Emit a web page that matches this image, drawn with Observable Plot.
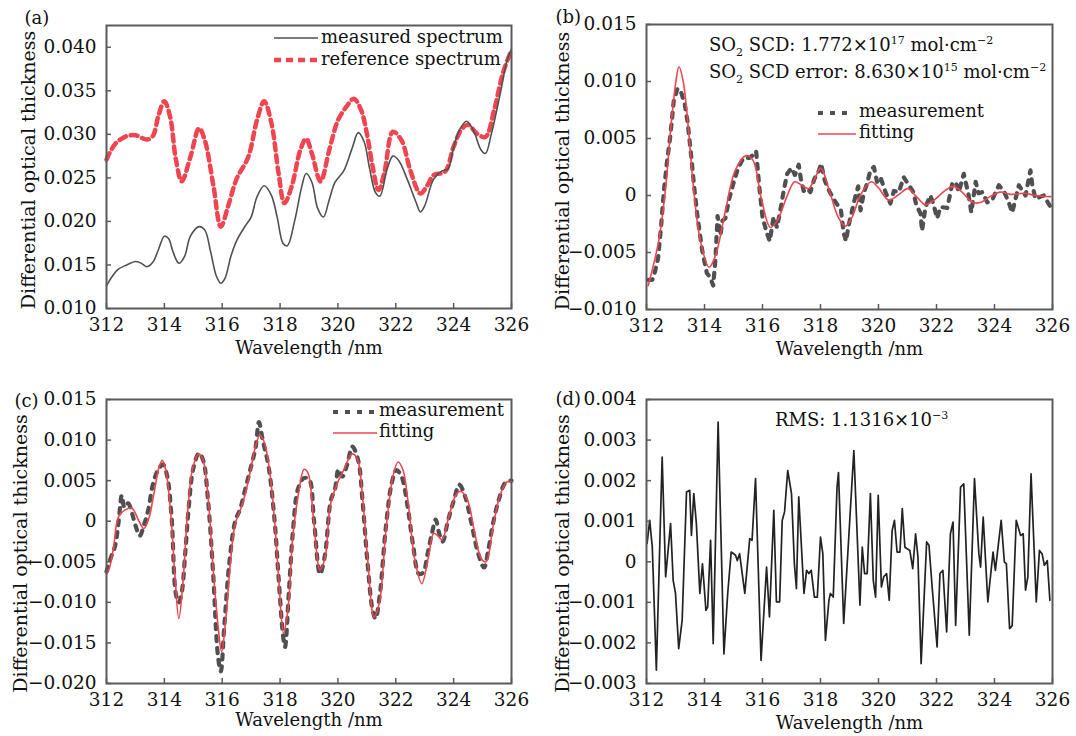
<!DOCTYPE html>
<html>
<head>
<meta charset="utf-8">
<script src="https://cdn.jsdelivr.net/npm/d3@7"></script>
<script src="https://cdn.jsdelivr.net/npm/@observablehq/plot@0.6"></script>
<style>
  body { margin: 0; background: #fff; }
  #wrap { position: relative; width: 1076px; height: 736px; font-family: "DejaVu Serif", serif; color: #111; }
  .panel { position: absolute; }
  .note { position: absolute; font-size: 18px; line-height: 20px; white-space: nowrap; }
  .note sub, .note sup { font-size: 11px; line-height: 0; }
  .sample { position: absolute; }
</style>
</head>
<body>
<div id="wrap"></div>
<script>
// ---------- data ----------
const wavelengthTicks = [312, 314, 316, 318, 320, 322, 324, 326];
const xTitle = "Wavelength /nm";
const yTitle = "Differential optical thickness";

// (a)
const aYTicks = [0.010, 0.015, 0.020, 0.025, 0.030, 0.035, 0.040];
const aMeasured = [
  [312.0,0.0126],[312.2,0.0137],[312.4,0.0145],[312.7,0.0150],[313.0,0.0154],[313.2,0.0152],[313.4,0.0148],
  [313.6,0.0153],[313.8,0.0168],[314.0,0.0183],[314.15,0.0180],[314.3,0.0165],[314.5,0.0152],[314.7,0.0160],
  [314.9,0.0183],[315.2,0.0194],[315.4,0.0190],[315.6,0.0165],[315.8,0.0137],[315.95,0.0129],[316.1,0.0135],
  [316.3,0.0160],[316.5,0.0178],[316.8,0.0195],[317.0,0.0205],[317.2,0.0228],[317.45,0.0241],[317.7,0.0230],
  [317.9,0.0205],[318.1,0.0175],[318.25,0.0172],[318.5,0.0200],[318.75,0.0240],[318.9,0.0255],[319.1,0.0245],
  [319.3,0.0215],[319.5,0.0205],[319.7,0.0225],[319.9,0.0245],[320.2,0.0258],[320.5,0.0285],[320.7,0.0302],
  [320.9,0.0292],[321.1,0.0260],[321.3,0.0233],[321.45,0.0229],[321.7,0.0260],[321.9,0.0275],[322.1,0.0270],
  [322.4,0.0248],[322.7,0.0222],[322.85,0.0211],[323.0,0.0218],[323.3,0.0248],[323.6,0.0258],[323.8,0.0260],
  [324.0,0.0285],[324.2,0.0305],[324.45,0.0315],[324.7,0.0303],[324.95,0.0282],[325.1,0.0278],[325.3,0.0300],
  [325.6,0.0345],[325.85,0.0385],[326.0,0.0398]
];
const aReference = [
  [312.0,0.0271],[312.3,0.0289],[312.7,0.0298],[313.0,0.0299],[313.4,0.0294],[313.6,0.0298],[313.8,0.0322],
  [314.0,0.0338],[314.2,0.0320],[314.4,0.0271],[314.6,0.0246],[314.9,0.0274],[315.2,0.0307],[315.4,0.0293],
  [315.7,0.0240],[315.95,0.0194],[316.2,0.0217],[316.5,0.0249],[316.9,0.0274],[317.2,0.0316],[317.45,0.0338],
  [317.7,0.0313],[317.95,0.0255],[318.15,0.0221],[318.4,0.0240],[318.7,0.0282],[318.9,0.0295],[319.1,0.0278],
  [319.4,0.0246],[319.7,0.0282],[320.0,0.0316],[320.3,0.0332],[320.55,0.0341],[320.8,0.0328],[321.0,0.0301],
  [321.2,0.0263],[321.4,0.0236],[321.6,0.0255],[321.9,0.0303],[322.2,0.0293],[322.5,0.0259],[322.85,0.0232],
  [323.1,0.0242],[323.3,0.0253],[323.7,0.0257],[324.0,0.0286],[324.3,0.0307],[324.5,0.0311],[324.8,0.0301],
  [325.1,0.0297],[325.4,0.0328],[325.7,0.0370],[326.0,0.0397]
];

// (b)
const bYTicks = [-0.010, -0.005, 0, 0.005, 0.010, 0.015];
const bMeasurement = [
  [312.05,-0.0074],[312.2,-0.0074],[312.3,-0.0066],[312.4,-0.0055],[312.5,-0.0028],[312.6,0.0004],[312.7,0.0028],
  [312.82,0.0052],[312.94,0.0083],[313.07,0.0094],[313.2,0.0090],[313.32,0.0080],[313.42,0.0064],[313.52,0.0040],
  [313.63,0.0011],[313.76,-0.0019],[313.92,-0.0048],[314.08,-0.0068],[314.2,-0.0072],[314.3,-0.0079],[314.38,-0.0055],
  [314.45,-0.0018],[314.55,-0.0035],[314.62,-0.0022],[314.72,-0.0020],[314.84,-0.0004],[315.0,0.0011],[315.17,0.0025],
  [315.35,0.0033],[315.55,0.0033],[315.7,0.0036],[315.78,0.0039],[315.88,0.0010],[316.0,-0.0019],[316.15,-0.0033],
  [316.25,-0.0040],[316.38,-0.0019],[316.5,-0.0028],[316.62,-0.0012],[316.73,0.0004],[316.85,0.0019],[317.0,0.0024],
  [317.12,0.0018],[317.25,0.0027],[317.32,0.0015],[317.42,0.0004],[317.55,0.0006],[317.65,0.0003],[317.78,0.0014],
  [317.95,0.0022],[318.02,0.0028],[318.15,0.0013],[318.3,0.0004],[318.45,-0.0003],[318.58,-0.0008],[318.7,-0.0012],
  [318.8,-0.0033],[318.88,-0.0040],[318.98,-0.0025],[319.09,-0.0013],[319.2,-0.0001],[319.3,0.0008],[319.38,-0.0013],
  [319.5,0.0003],[319.6,0.0010],[319.72,0.0022],[319.84,0.0025],[319.95,0.0012],[320.07,0.0016],[320.24,0.0003],
  [320.41,-0.0007],[320.53,0.0004],[320.7,0.0003],[320.87,0.0016],[321.05,0.0009],[321.2,0.0003],[321.3,-0.0008],
  [321.45,-0.0016],[321.5,-0.0031],[321.62,-0.0010],[321.79,0.0000],[321.9,-0.0008],[322.02,-0.0020],[322.14,-0.0010],
  [322.37,-0.0011],[322.54,0.0010],[322.66,0.0012],[322.77,0.0003],[322.94,0.0019],[323.11,0.0000],[323.2,-0.0015],
  [323.35,0.0012],[323.45,0.0002],[323.58,0.0003],[323.75,-0.0006],[323.92,-0.0004],[324.15,0.0009],[324.32,0.0004],
  [324.49,-0.0006],[324.61,-0.0015],[324.84,0.0009],[325.07,0.0000],[325.24,0.0022],[325.3,0.0010],[325.41,-0.0003],
  [325.59,-0.0001],[325.7,0.0000],[325.93,-0.0010]
];
const bFitting = [
  [312.06,-0.0079],[312.42,-0.0040],[312.66,0.0007],[312.84,0.0060],[313.02,0.0101],[313.12,0.0113],[313.26,0.0101],
  [313.44,0.0060],[313.62,0.0007],[313.86,-0.0040],[314.16,-0.0063],[314.40,-0.0051],[314.70,-0.0016],[315.06,0.0022],
  [315.43,0.0035],[315.67,0.0031],[315.97,-0.0004],[316.27,-0.0028],[316.51,-0.0022],[316.87,0.0001],[317.11,0.0012],
  [317.35,0.0009],[317.59,0.0006],[317.77,0.0013],[318.01,0.0024],[318.31,0.0004],[318.61,-0.0019],[318.85,-0.0027],
  [319.09,-0.0019],[319.39,0.0001],[319.75,0.0012],[319.99,0.0007],[320.35,-0.0004],[320.71,0.0001],[321.01,0.0006],
  [321.31,-0.0001],[321.61,-0.0008],[321.92,-0.0004],[322.28,0.0004],[322.58,0.0008],[322.88,0.0003],[323.24,-0.0006],
  [323.54,-0.0006],[323.84,-0.0001],[324.20,0.0003],[324.56,0.0001],[325.04,0.0002],[325.40,0.0000],[325.94,-0.0001]
];

// (c)
const cYTicks = [-0.020, -0.015, -0.010, -0.005, 0, 0.005, 0.010, 0.015];
const cMeasurement = [
  [312.0,-0.0062],[312.15,-0.0045],[312.3,-0.0030],[312.42,0.0000],[312.53,0.0032],[312.62,0.0017],[312.75,0.0022],
  [312.88,0.0010],[313.0,-0.0005],[313.15,-0.0018],[313.3,-0.0004],[313.45,0.0015],[313.6,0.0045],[313.78,0.0063],
  [313.95,0.0070],[314.1,0.0055],[314.25,0.0005],[314.4,-0.0090],[314.5,-0.0100],[314.6,-0.0088],[314.72,-0.0040],
  [314.85,0.0020],[315.0,0.0065],[315.2,0.0084],[315.35,0.0074],[315.5,0.0030],[315.68,-0.0060],[315.85,-0.0165],
  [315.95,-0.0185],[316.07,-0.0130],[316.25,-0.0050],[316.45,0.0000],[316.62,0.0015],[316.8,0.0040],[317.0,0.0068],
  [317.15,0.0090],[317.27,0.0122],[317.4,0.0100],[317.6,0.0068],[317.8,0.0005],[317.95,-0.0070],[318.1,-0.0140],
  [318.17,-0.0155],[318.3,-0.0090],[318.45,-0.0010],[318.62,0.0040],[318.82,0.0053],[319.0,0.0052],[319.17,0.0002],
  [319.38,-0.0065],[319.55,-0.0042],[319.75,0.0025],[319.9,0.0040],[320.02,0.0064],[320.15,0.0055],[320.32,0.0070],
  [320.5,0.0092],[320.7,0.0075],[320.85,0.0025],[321.02,-0.0050],[321.2,-0.0110],[321.3,-0.0120],[321.45,-0.0090],
  [321.65,-0.0010],[321.85,0.0045],[322.02,0.0063],[322.2,0.0055],[322.4,0.0020],[322.6,-0.0030],[322.8,-0.0065],
  [322.95,-0.0063],[323.1,-0.0040],[323.25,-0.0015],[323.38,0.0002],[323.5,-0.0015],[323.62,-0.0025],[323.8,0.0000],
  [324.0,0.0025],[324.2,0.0045],[324.4,0.0030],[324.6,0.0000],[324.85,-0.0040],[325.05,-0.0057],[325.2,-0.0035],
  [325.35,-0.0005],[325.55,0.0025],[325.8,0.0048],[326.0,0.0050]
];
const cFitting = [
  [312.0,-0.0064],[312.06,-0.0062],[312.23,-0.0036],[312.41,0.0005],[312.64,0.0014],[312.88,0.0016],[313.11,0.0001],
  [313.29,-0.0009],[313.46,0.0003],[313.64,0.0034],[313.82,0.0067],[313.93,0.0075],[314.05,0.0063],[314.23,0.0005],
  [314.37,-0.0069],[314.5,-0.0120],[314.64,-0.0077],[314.81,0.0014],[314.99,0.0067],[315.19,0.0083],[315.34,0.0075],
  [315.51,0.0030],[315.69,-0.0060],[315.87,-0.0134],[315.98,-0.0161],[316.12,-0.0122],[316.28,-0.0052],[316.45,-0.0003],
  [316.63,0.0014],[316.8,0.0034],[316.98,0.0063],[317.15,0.0092],[317.3,0.0106],[317.45,0.0098],[317.62,0.0067],
  [317.8,0.0005],[317.95,-0.0069],[318.12,-0.0138],[318.27,-0.0110],[318.44,-0.0019],[318.62,0.0030],[318.83,0.0064],
  [318.97,0.0059],[319.15,0.0005],[319.38,-0.0060],[319.56,-0.0044],[319.73,0.0018],[319.97,0.0046],[320.2,0.0063],
  [320.49,0.0083],[320.67,0.0077],[320.85,0.0030],[321.02,-0.0044],[321.25,-0.0118],[321.43,-0.0101],[321.66,-0.0011],
  [321.9,0.0055],[322.08,0.0073],[322.25,0.0063],[322.43,0.0022],[322.66,-0.0048],[322.9,-0.0077],[323.13,-0.0044],
  [323.31,-0.0015],[323.48,-0.0019],[323.6,-0.0023],[323.83,0.0005],[324.07,0.0032],[324.24,0.0037],[324.48,0.0026],
  [324.71,-0.0011],[324.95,-0.0046],[325.12,-0.0050],[325.36,-0.0007],[325.59,0.0030],[325.82,0.0048],[326.0,0.0049]
];

// (d)
const dYTicks = [-0.003, -0.002, -0.001, 0, 0.001, 0.002, 0.003, 0.004];
const dResidual = [
  [312.02,0.00045],[312.11,0.00102],[312.2,0.00036],[312.34,-0.00267],[312.54,0.00258],[312.66,-0.00037],
  [312.83,0.00094],[312.92,-0.00046],[313.0,-0.00078],[313.11,-0.00214],[313.23,-0.00144],[313.38,0.00172],
  [313.49,0.00176],[313.55,0.00065],[313.63,0.00168],[313.72,0.00094],[313.84,-0.00078],[313.93,-0.00005],
  [314.05,-0.0012],[314.11,-0.00111],[314.21,0.00053],[314.3,-0.00202],[314.47,0.00344],[314.67,-0.00227],
  [314.8,-0.00078],[314.92,0.00024],[315.07,0.00016],[315.13,0.00003],[315.21,0.0002],[315.39,-0.00078],
  [315.56,0.00057],[315.64,0.00053],[315.76,0.00205],[315.95,-0.00243],[316.14,-0.00013],[316.24,-0.00136],
  [316.39,0.00127],[316.48,-0.00099],[316.59,-0.00099],[316.68,0.00102],[316.76,0.00123],[316.87,0.00225],
  [317.0,0.00168],[317.1,-0.00005],[317.17,-0.00066],[317.25,0.0016],[317.43,-0.00078],[317.52,-0.00021],
  [317.6,-0.00029],[317.68,-0.00021],[317.79,-0.00087],[317.89,-0.00087],[318.0,0.00061],[318.08,0.0002],
  [318.17,-0.00194],[318.29,-0.00095],[318.34,-0.00078],[318.44,-0.00087],[318.57,0.00184],[318.62,0.0022],
  [318.8,-0.00152],[319.15,0.00274],[319.36,-0.00107],[319.44,0.00036],[319.52,-0.00029],[319.61,-0.00029],
  [319.72,0.00168],[319.82,-0.00046],[319.9,-0.00087],[319.99,0.00164],[320.1,-0.00062],[320.18,-0.00037],
  [320.28,-0.00029],[320.37,-0.00095],[320.47,0.00077],[320.55,0.00102],[320.64,0.00024],[320.74,0.00024],
  [320.82,0.00131],[320.91,0.00036],[320.99,0.00032],[321.08,0.00028],[321.18,-0.00017],[321.28,0.00069],
  [321.36,0.00012],[321.47,-0.00251],[321.66,0.00049],[321.74,0.00041],[321.85,-0.00062],[322.02,-0.0021],
  [322.12,-0.00029],[322.22,-0.00021],[322.35,-0.00173],[322.48,0.00069],[322.57,0.00098],[322.66,-0.00157],
  [322.83,0.00184],[322.94,0.00192],[323.13,-0.00181],[323.31,0.00205],[323.46,0.0002],[323.52,-0.00013],
  [323.61,0.0011],[323.77,-0.00099],[323.95,0.00024],[324.03,-0.00021],[324.23,0.00102],[324.34,0.0],
  [324.41,-0.00005],[324.52,-0.00165],[324.61,-0.00157],[324.75,0.00102],[324.9,0.00065],[324.99,0.00069],
  [325.07,-0.0007],[325.15,-0.00037],[325.26,0.00217],[325.44,-0.00099],[325.55,0.00028],[325.64,0.0002],
  [325.72,-0.00009],[325.82,0.00003],[325.91,-0.00095]
];

// ---------- drawing ----------
const wrap = document.getElementById("wrap");
const GRAY = "#505050", RED = "#ee4550", FRAME = "#5a5a5a";
const MEAS_DASH = "5,7";
const fmt = d => d === 0 ? "0" : d3.format(".3f")(d);

function panel(o) {
  const innerW = o.width - o.ml - o.mr, innerH = o.height - o.mt - o.mb;
  const chart = Plot.plot({
    width: o.width, height: o.height,
    marginTop: o.mt, marginRight: o.mr, marginBottom: o.mb, marginLeft: o.ml,
    x: {domain: [312, 326], label: null},
    y: {domain: o.yDomain, label: null},
    style: {fontFamily: "'DejaVu Serif', serif", fontSize: "18px", color: "#111", background: "transparent", overflow: "visible"},
    marks: [
      ...o.marks,
      Plot.frame({stroke: FRAME, strokeWidth: 2}),
      Plot.tickX(wavelengthTicks, {x: d => d, insetTop: innerH - 5, stroke: FRAME, strokeWidth: 1.5}),
      Plot.tickY(o.yTicks, {y: d => d, insetRight: innerW - 5, stroke: FRAME, strokeWidth: 1.5}),
      Plot.axisX({ticks: wavelengthTicks, tickSize: 0, tickPadding: 9, fontSize: 18.5, label: null, tickFormat: d => String(d)}),
      Plot.axisY({ticks: o.yTicks, tickSize: 0, tickPadding: 10, fontSize: 18.5, label: null, tickFormat: fmt}),
      Plot.text([xTitle], {text: d => d, frameAnchor: "bottom", dy: o.xlabDy, lineAnchor: "middle", textAnchor: "middle", fontSize: 18, fill: "#111"}),
      Plot.text([yTitle], {text: d => d, frameAnchor: "left", dx: o.ylabDx, dy: o.ylabDy || 0, rotate: -90, textAnchor: "middle", lineAnchor: "middle", fontSize: 19, fill: "#111"}),
      Plot.text([o.tag], {text: d => d, frameAnchor: "top-left", dx: o.tagDx, dy: o.tagDy, textAnchor: "start", lineAnchor: "middle", fontSize: 18, fill: "#111"})
    ]
  });
  chart.classList.add("panel");
  chart.style.left = o.left + "px";
  chart.style.top = o.top + "px";
  wrap.appendChild(chart);
}

const line = (data, opts) => Plot.line(data, {x: d => d[0], y: d => d[1], ...opts});

panel({
  left: 0, top: 0, width: 530, height: 365, ml: 106, mr: 19, mt: 25, mb: 57,
  yDomain: [0.010, 0.0425], yTicks: aYTicks, xlabDy: 40, ylabDx: -78, ylabDy: 3, tag: "(a)", tagDx: -82, tagDy: -7,
  marks: [
    line(aReference, {stroke: RED, strokeWidth: 4.5, strokeDasharray: "7,5", curve: "catmull-rom"}),
    line(aMeasured, {stroke: GRAY, strokeWidth: 1.6, curve: "catmull-rom"})
  ]
});
panel({
  left: 540, top: 0, width: 536, height: 365, ml: 106, mr: 24, mt: 24, mb: 56,
  yDomain: [-0.010, 0.015], yTicks: bYTicks, xlabDy: 40, ylabDx: -84, ylabDy: 4, tag: "(b)", tagDx: -91, tagDy: -7,
  marks: [
    line(bMeasurement, {stroke: GRAY, strokeWidth: 4.2, strokeDasharray: MEAS_DASH}),
    line(bFitting, {stroke: RED, strokeWidth: 1.6, curve: "catmull-rom"})
  ]
});
panel({
  left: 0, top: 375, width: 530, height: 361, ml: 106, mr: 19, mt: 24, mb: 53,
  yDomain: [-0.020, 0.015], yTicks: cYTicks, xlabDy: 37, ylabDx: -86, ylabDy: 12, tag: "(c)", tagDx: -92, tagDy: 2,
  marks: [
    line(cMeasurement, {stroke: GRAY, strokeWidth: 4.2, strokeDasharray: MEAS_DASH, curve: "catmull-rom"}),
    line(cFitting, {stroke: RED, strokeWidth: 1.6, curve: "catmull-rom"})
  ]
});
panel({
  left: 540, top: 375, width: 536, height: 361, ml: 106, mr: 24, mt: 24, mb: 53,
  yDomain: [-0.003, 0.004], yTicks: dYTicks, xlabDy: 40, ylabDx: -84, ylabDy: 12, tag: "(d)", tagDx: -91, tagDy: 0,
  marks: [
    line(dResidual, {stroke: "#222", strokeWidth: 1.7})
  ]
});

// ---------- legends & annotations ----------
function note(html, x, cy) {
  const d = document.createElement("div");
  d.className = "note";
  d.style.left = x + "px";
  d.style.top = (cy - 11) + "px";
  d.innerHTML = html;
  wrap.appendChild(d);
}
function sample(x1, x2, cy, stroke, width, dash) {
  const ns = "http://www.w3.org/2000/svg";
  const s = document.createElementNS(ns, "svg");
  s.setAttribute("class", "sample");
  s.setAttribute("width", x2 - x1);
  s.setAttribute("height", 10);
  s.style.left = x1 + "px";
  s.style.top = (cy - 5) + "px";
  const l = document.createElementNS(ns, "line");
  l.setAttribute("x1", 0); l.setAttribute("x2", x2 - x1);
  l.setAttribute("y1", 5); l.setAttribute("y2", 5);
  l.setAttribute("stroke", stroke); l.setAttribute("stroke-width", width);
  if (dash) l.setAttribute("stroke-dasharray", dash);
  s.appendChild(l);
  wrap.appendChild(s);
}

// (a)
sample(274, 318, 38, GRAY, 1.6);
note("measured spectrum", 321, 38);
sample(274, 318, 60, RED, 4.5, "7,5");
note("reference spectrum", 321, 60);

// (b)
note("SO<sub>2</sub> SCD: 1.772×10<sup>17</sup> mol·cm<sup>−2</sup>", 709, 46);
note("SO<sub>2</sub> SCD error: 8.630×10<sup>15</sup> mol·cm<sup>−2</sup>", 709, 73);
sample(818, 854, 113, GRAY, 4.2, MEAS_DASH);
note("measurement", 859, 112);
sample(818, 856, 134, RED, 1.6);
note("fitting", 859, 133);

// (c)
sample(333, 375, 412, GRAY, 4.2, MEAS_DASH);
note("measurement", 379, 411);
sample(333, 377, 433, RED, 1.6);
note("fitting", 379, 432);

// (d)
note("RMS: 1.1316×10<sup>−3</sup>", 775, 421);
</script>
</body>
</html>
